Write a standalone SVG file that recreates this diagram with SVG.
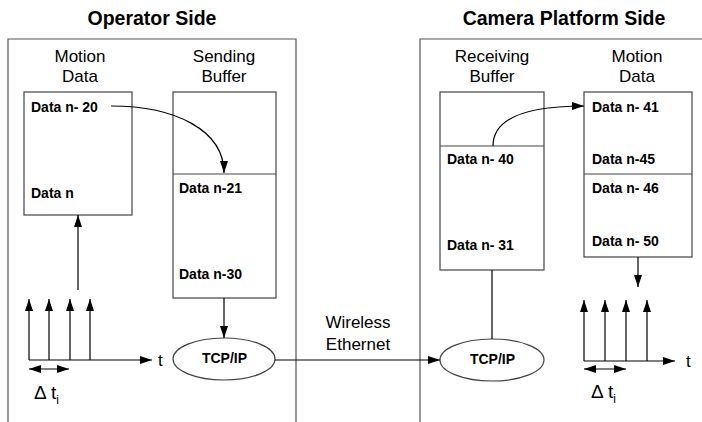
<svg xmlns="http://www.w3.org/2000/svg" width="702" height="422" viewBox="0 0 702 422">
<defs>
<marker id="ah" viewBox="0 0 12 8" refX="12" refY="4" markerWidth="12" markerHeight="8" markerUnits="userSpaceOnUse" orient="auto">
<path d="M0,0 L12,4 L0,8 Z" fill="#000"/>
</marker>
<marker id="ahs" viewBox="0 0 12 8" refX="0" refY="4" markerWidth="12" markerHeight="8" markerUnits="userSpaceOnUse" orient="auto">
<path d="M12,0 L0,4 L12,8 Z" fill="#000"/>
</marker>
</defs>
<style>
.title{font-family:"Liberation Sans",Arial,sans-serif;font-weight:bold;font-size:19.5px;text-anchor:middle;fill:#000}
.lbl{font-family:"Liberation Sans",Arial,sans-serif;font-size:17px;text-anchor:middle;fill:#000}
.dt{font-family:"Liberation Sans",Arial,sans-serif;font-size:19px;fill:#000}
.dat{font-family:"Liberation Sans",Arial,sans-serif;font-weight:bold;font-size:14px;fill:#000}
.tcp{font-family:"Liberation Sans",Arial,sans-serif;font-weight:bold;font-size:14px;text-anchor:middle;fill:#000}
.panel{fill:none;stroke:#555;stroke-width:1.2}
.box{fill:#fff;stroke:#444;stroke-width:1.2}
.ln{fill:none;stroke:#000;stroke-width:1.2}
.arr{fill:none;stroke:#000;stroke-width:1.2;marker-end:url(#ah)}
</style>
<rect width="702" height="422" fill="#fff"/>

<g id="operator-side">
<path class="panel" d="M8,424 V39 H296 V424"/>
<text class="title" x="152" y="25">Operator Side</text>
</g>

<g id="camera-side">
<path class="panel" d="M420,424 V39 H704"/>
<text class="title" x="564" y="25">Camera Platform Side</text>
</g>

<g id="motion-data-left">
<text class="lbl" x="80" y="62">Motion</text>
<text class="lbl" x="80" y="82">Data</text>
<rect class="box" x="24" y="92" width="108" height="123"/>
<text class="dat" x="31" y="112">Data n- 20</text>
<text class="dat" x="31" y="198">Data n</text>
</g>

<g id="sending-buffer">
<text class="lbl" x="224" y="62">Sending</text>
<text class="lbl" x="224" y="82">Buffer</text>
<rect class="box" x="173" y="92" width="103" height="206"/>
<line class="box" x1="173" y1="174" x2="276" y2="174"/>
<text class="dat" x="179" y="193">Data n-21</text>
<text class="dat" x="179" y="279">Data n-30</text>
</g>

<g id="tcp-left">
<ellipse class="box" cx="224" cy="359" rx="51" ry="21"/>
<text class="tcp" x="224.5" y="363">TCP/IP</text>
</g>

<g id="receiving-buffer">
<text class="lbl" x="492" y="62">Receiving</text>
<text class="lbl" x="492" y="82">Buffer</text>
<rect class="box" x="440" y="92" width="104" height="178"/>
<line class="box" x1="440" y1="146" x2="544" y2="146"/>
<text class="dat" x="447" y="164">Data n- 40</text>
<text class="dat" x="447" y="250">Data n- 31</text>
</g>

<g id="motion-data-right">
<text class="lbl" x="637" y="62">Motion</text>
<text class="lbl" x="637" y="82">Data</text>
<rect class="box" x="584" y="92" width="108" height="165"/>
<line class="box" x1="584" y1="174" x2="692" y2="174"/>
<text class="dat" x="592" y="112">Data n- 41</text>
<text class="dat" x="592" y="164">Data n-45</text>
<text class="dat" x="592" y="193">Data n- 46</text>
<text class="dat" x="592" y="246">Data n- 50</text>
</g>

<g id="tcp-right">
<ellipse class="box" cx="492" cy="360" rx="52" ry="21"/>
<text class="tcp" x="492.5" y="364">TCP/IP</text>
</g>

<g id="wireless-label">
<text class="lbl" x="358" y="328">Wireless</text>
<text class="lbl" x="358" y="350">Ethernet</text>
</g>

<g id="timeline-left">
<path class="arr" d="M29,360 H152"/>
<path class="arr" d="M29,360 V299"/>
<path class="arr" d="M49,360 V299"/>
<path class="arr" d="M70,360 V299"/>
<path class="arr" d="M90,360 V299"/>
<path class="ln" d="M29,369 H69" marker-start="url(#ahs)" marker-end="url(#ah)"/>
<text class="lbl" x="158" y="366" style="text-anchor:start">t</text>
<text class="dt" x="34" y="399">Δ t<tspan font-size="12" dy="5">i</tspan></text>
</g>

<g id="timeline-right">
<path class="arr" d="M584,361 H675"/>
<path class="arr" d="M584,361 V300"/>
<path class="arr" d="M605,361 V300"/>
<path class="arr" d="M626,361 V300"/>
<path class="arr" d="M647,361 V300"/>
<path class="ln" d="M584,369 H626" marker-start="url(#ahs)" marker-end="url(#ah)"/>
<text class="lbl" x="686" y="367" style="text-anchor:start">t</text>
<text class="dt" x="591" y="398">Δ t<tspan font-size="12" dy="5">i</tspan></text>
</g>

<g id="connectors">
<path class="arr" d="M111,106 C175,106 224,130 224,173"/>
<path class="arr" d="M78,290 V215"/>
<path class="arr" d="M224,298 V338"/>
<path class="arr" d="M275,360 H440"/>
<path class="ln" d="M492,270 V339"/>
<path class="arr" d="M493,146 C493,118 525,106 584,106"/>
<path class="arr" d="M638,257 V287"/>
</g>
</svg>
